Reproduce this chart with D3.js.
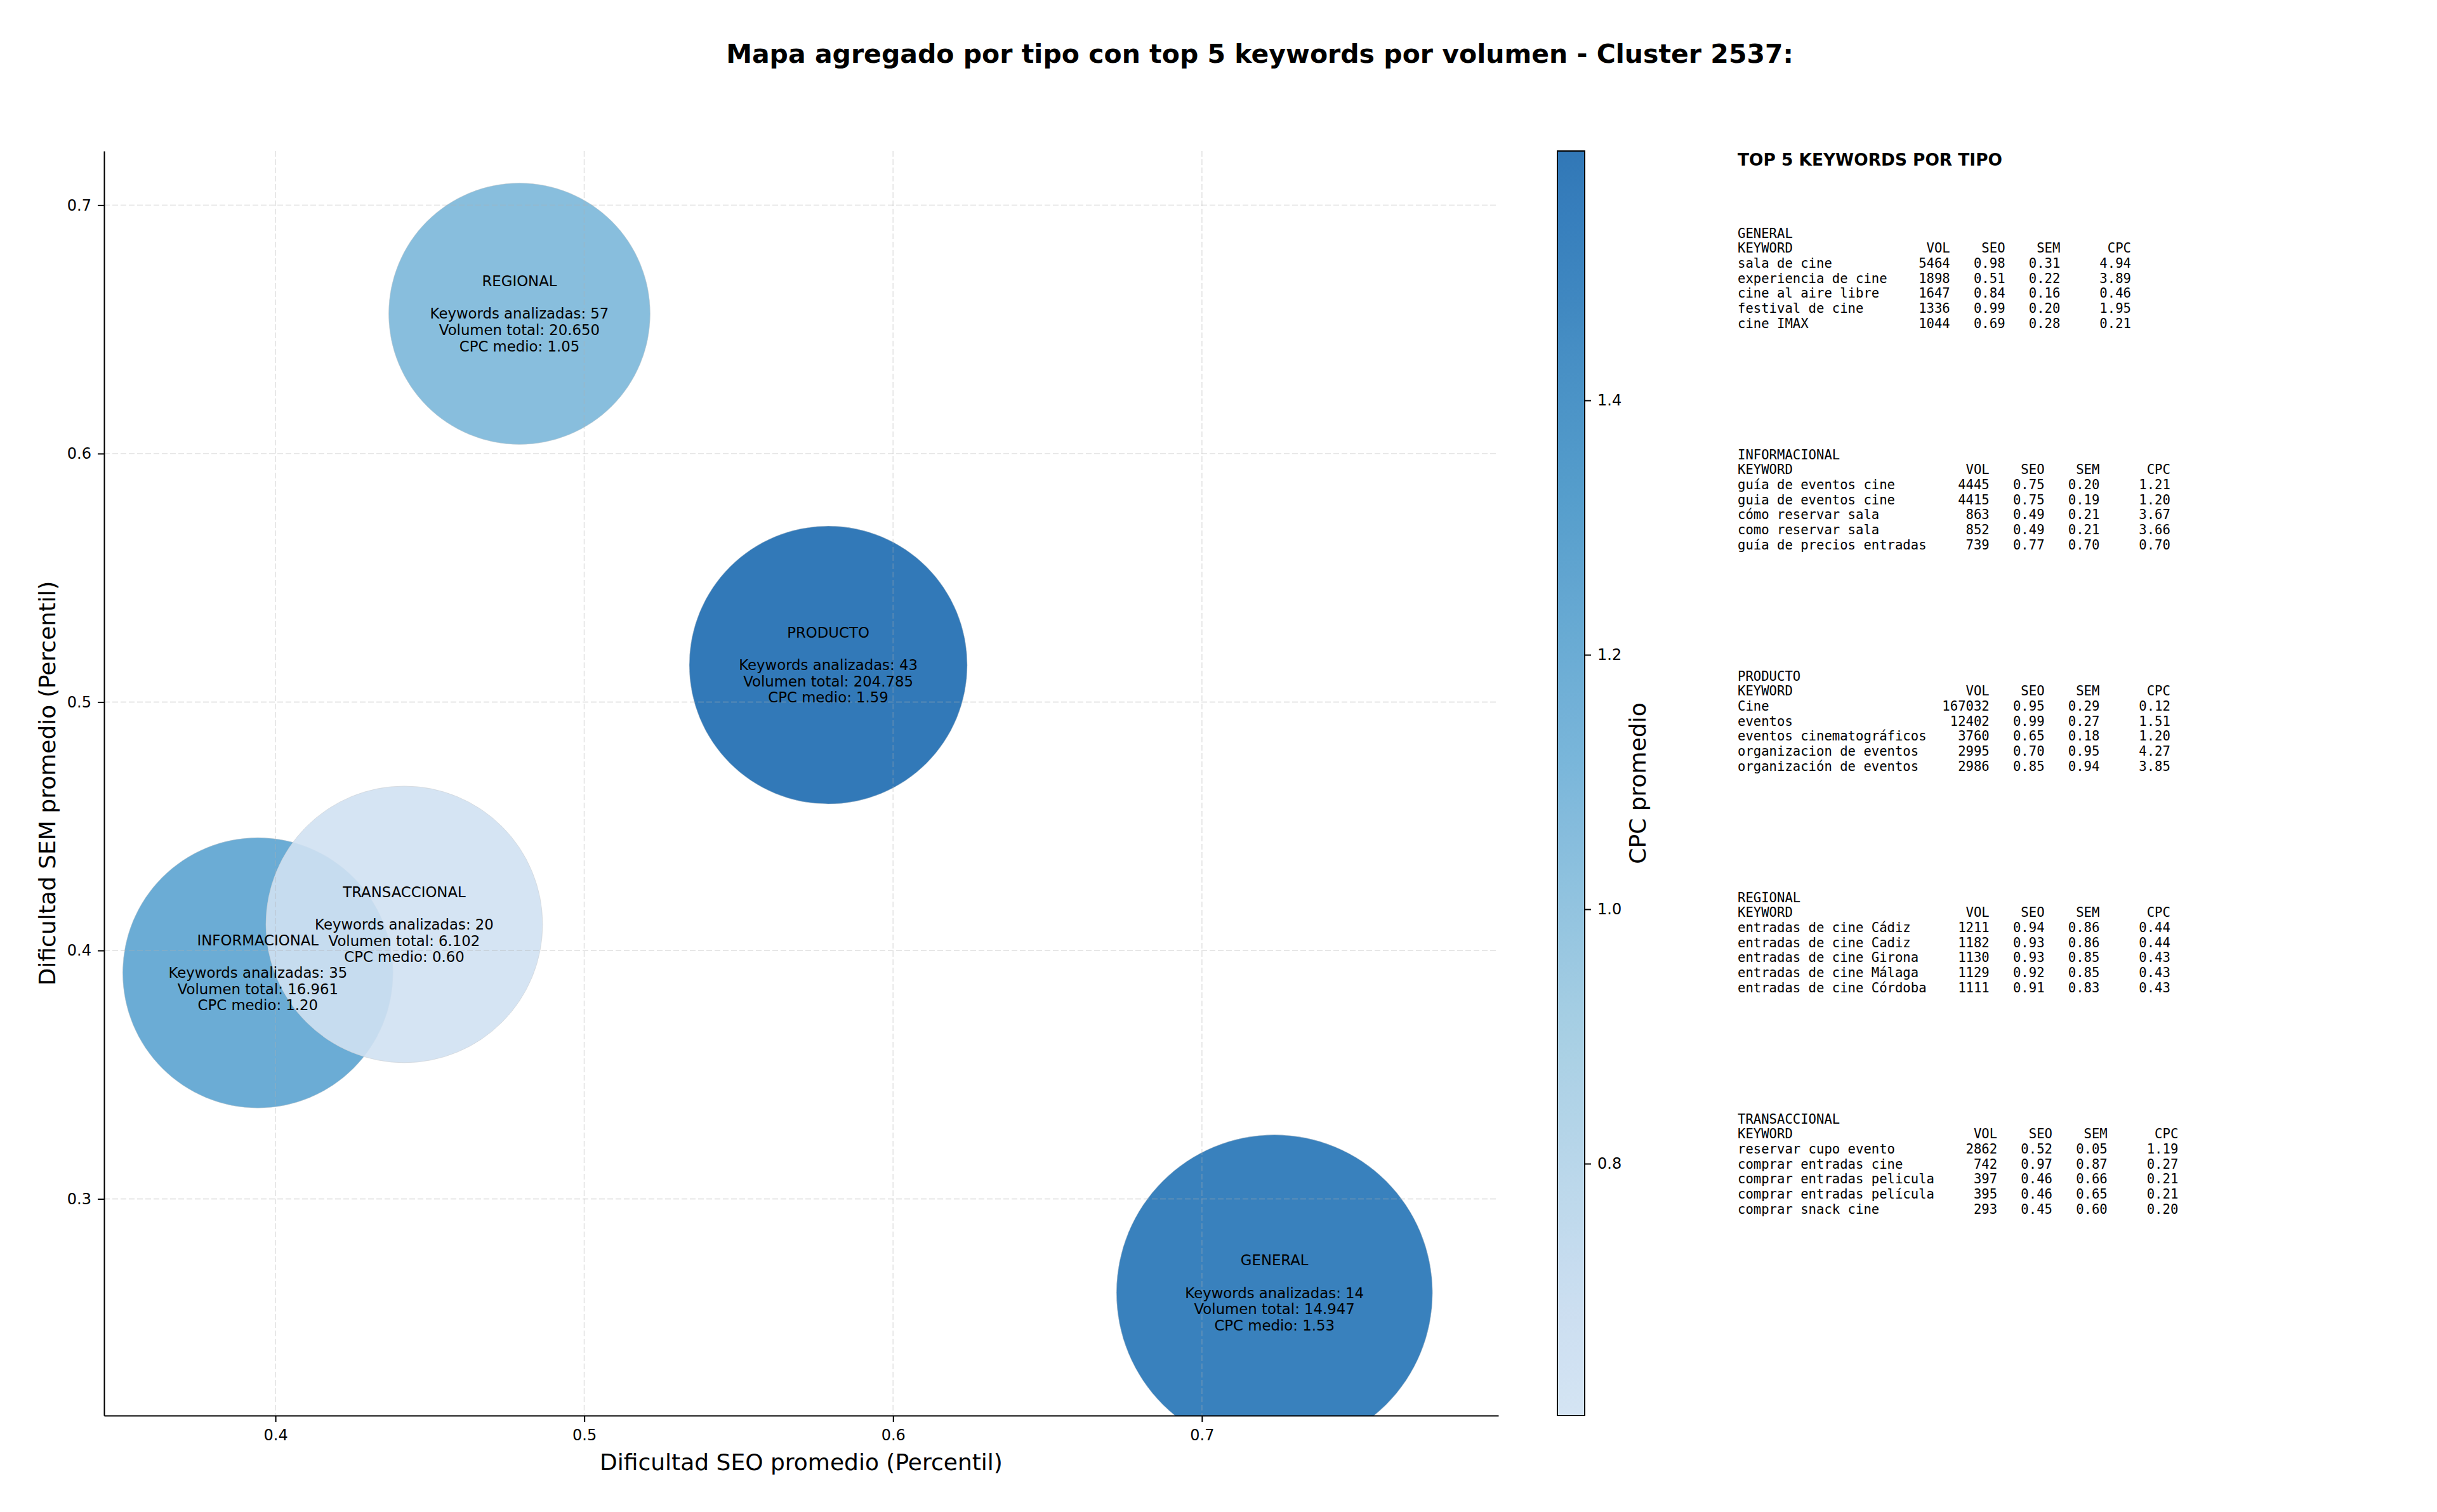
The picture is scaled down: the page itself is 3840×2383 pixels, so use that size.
<!DOCTYPE html>
<html><head><meta charset="utf-8">
<script src="https://cdn.jsdelivr.net/npm/d3@7"></script>
<style>
body{margin:0;background:#fff}
svg text{font-family:"DejaVu Sans",sans-serif;fill:#000}
.mono{font-family:"DejaVu Sans Mono",monospace;white-space:pre}
</style>
</head><body>
<svg id="chart" width="3840" height="2383"></svg>
<script>
// ---------- DATA ----------
const types      = ["GENERAL","INFORMACIONAL","PRODUCTO","REGIONAL","TRANSACCIONAL"];
const seoAvg     = [0.7235, 0.3943, 0.579, 0.479, 0.4417];
const semAvg     = [0.2622, 0.391, 0.5149, 0.6563, 0.4105];
const kwCount    = [14, 35, 43, 57, 20];
const volTotal   = [14947, 16961, 204785, 20650, 6102];
const cpcAvg     = [1.53, 1.20, 1.59, 1.05, 0.60];
const markerArea = [43056, 31506, 33306, 29469, 33003];
const xTicks  = [0.4, 0.5, 0.6, 0.7];
const yTicks  = [0.3, 0.4, 0.5, 0.6, 0.7];
const cbTicks = [0.8, 1.0, 1.2, 1.4];
const cpcRange = [0.602, 1.596];

const kwGeneral = [
  ["sala de cine",5464,0.98,0.31,4.94],
  ["experiencia de cine",1898,0.51,0.22,3.89],
  ["cine al aire libre",1647,0.84,0.16,0.46],
  ["festival de cine",1336,0.99,0.20,1.95],
  ["cine IMAX",1044,0.69,0.28,0.21]];
const kwInformacional = [
  ["guía de eventos cine",4445,0.75,0.20,1.21],
  ["guia de eventos cine",4415,0.75,0.19,1.20],
  ["cómo reservar sala",863,0.49,0.21,3.67],
  ["como reservar sala",852,0.49,0.21,3.66],
  ["guía de precios entradas",739,0.77,0.70,0.70]];
const kwProducto = [
  ["Cine",167032,0.95,0.29,0.12],
  ["eventos",12402,0.99,0.27,1.51],
  ["eventos cinematográficos",3760,0.65,0.18,1.20],
  ["organizacion de eventos",2995,0.70,0.95,4.27],
  ["organización de eventos",2986,0.85,0.94,3.85]];
const kwRegional = [
  ["entradas de cine Cádiz",1211,0.94,0.86,0.44],
  ["entradas de cine Cadiz",1182,0.93,0.86,0.44],
  ["entradas de cine Girona",1130,0.93,0.85,0.43],
  ["entradas de cine Málaga",1129,0.92,0.85,0.43],
  ["entradas de cine Córdoba",1111,0.91,0.83,0.43]];
const kwTransaccional = [
  ["reservar cupo evento",2862,0.52,0.05,1.19],
  ["comprar entradas cine",742,0.97,0.87,0.27],
  ["comprar entradas pelicula",397,0.46,0.66,0.21],
  ["comprar entradas película",395,0.46,0.65,0.21],
  ["comprar snack cine",293,0.45,0.60,0.20]];
const tableBlocks = [kwGeneral, kwInformacional, kwProducto, kwRegional, kwTransaccional];

// ---------- LAYOUT ----------
const svg = d3.select("#chart");
const plot = {left:164, right:2361, top:238, bottom:2231};
const x = d3.scaleLinear().domain([0.3445, 0.796]).range([plot.left, plot.right]);
const y = d3.scaleLinear().domain([0.2128, 0.7218]).range([plot.bottom, plot.top]);
const rScale = d3.scaleSqrt().domain([0, 40000]).range([0, 240]);

// colormap: matplotlib Blues, truncated
const bluesStops = ["#f7fbff","#deebf7","#c6dbef","#9ecae1","#6baed6","#4292c6","#2171b5","#08519c","#08306b"];
const blues = d3.scaleLinear().domain(d3.range(9).map(i=>i/8)).range(bluesStops).interpolate(d3.interpolateRgb);
const cLo = 0.2, cHi = 0.78, alpha = 0.9;
const norm = d3.scaleLinear().domain(cpcRange).range([0,1]).clamp(true);
const cmap = v => blues(cLo + (cHi-cLo)*norm(v));

const defs = svg.append("defs");
defs.append("clipPath").attr("id","plotclip").append("rect")
  .attr("x",plot.left).attr("y",plot.top).attr("width",plot.right-plot.left).attr("height",plot.bottom-plot.top);

// title
svg.append("text").attr("x",1985).attr("y",85).attr("text-anchor","middle")
  .attr("dominant-baseline","central").style("font-size","41px").style("font-weight","bold")
  .text("Mapa agregado por tipo con top 5 keywords por volumen - Cluster 2537:");

// bubbles
const idx = d3.range(types.length);
svg.append("g").attr("clip-path","url(#plotclip)").selectAll("circle").data(idx).join("circle")
  .attr("cx", i=>x(seoAvg[i])).attr("cy", i=>y(semAvg[i])).attr("r", i=>rScale(markerArea[i]))
  .attr("fill", i=>cmap(cpcAvg[i])).attr("fill-opacity", alpha)
  .attr("stroke","#cccccc").attr("stroke-width",1).attr("stroke-opacity",0.5);

// grid (above bubbles like matplotlib)
const grid = svg.append("g").attr("stroke","#b0b0b0").attr("stroke-opacity",0.3)
  .attr("stroke-width",1.9).attr("stroke-dasharray","9,4");
grid.selectAll(".gx").data(xTicks).join("line").attr("x1",d=>x(d)).attr("x2",d=>x(d))
  .attr("y1",plot.top).attr("y2",plot.bottom);
grid.selectAll(".gy").data(yTicks).join("line").attr("y1",d=>y(d)).attr("y2",d=>y(d))
  .attr("x1",plot.left).attr("x2",plot.right);

// bubble labels
const fmtVol = d3.formatLocale({decimal:",",thousands:".",grouping:[3],currency:["",""]}).format(",d");
const lab = svg.append("g").style("font-size","22.8px").attr("text-anchor","middle");
idx.forEach(i=>{
  const lines = [types[i], "", `Keywords analizadas: ${kwCount[i]}`, `Volumen total: ${fmtVol(volTotal[i])}`, `CPC medio: ${cpcAvg[i].toFixed(2)}`];
  lines.forEach((t,k)=>{
    if(!t) return;
    lab.append("text").attr("x",x(seoAvg[i])).attr("y",y(semAvg[i]) + (k-2)*25.6)
      .attr("dominant-baseline","central").text(t);
  });
});

// axes
const xAxis = svg.append("g").attr("transform",`translate(0,${plot.bottom})`)
  .call(d3.axisBottom(x).tickValues(xTicks).tickFormat(d3.format(".1f")).tickSize(10).tickPadding(12).tickSizeOuter(0));
const yAxis = svg.append("g").attr("transform",`translate(${plot.left},0)`)
  .call(d3.axisLeft(y).tickValues(yTicks).tickFormat(d3.format(".1f")).tickSize(10).tickPadding(10).tickSizeOuter(0));
[xAxis,yAxis].forEach(a=>{
  a.select(".domain").attr("stroke","#000").attr("stroke-width",2);
  a.selectAll(".tick line").attr("stroke","#000").attr("stroke-width",2);
  a.selectAll(".tick text").style("font-size","24px").style("font-family","DejaVu Sans").attr("fill","#000");
});
svg.append("text").attr("x",(plot.left+plot.right)/2).attr("y",2304).attr("text-anchor","middle")
  .attr("dominant-baseline","central").style("font-size","36px").text("Dificultad SEO promedio (Percentil)");
svg.append("text").attr("transform",`translate(74,${(plot.top+plot.bottom)/2}) rotate(-90)`)
  .attr("text-anchor","middle").attr("dominant-baseline","central").style("font-size","36px")
  .text("Dificultad SEM promedio (Percentil)");

// colorbar
const cb = {x:2454, w:43, top:238, bottom:2231};
const cbY = d3.scaleLinear().domain(cpcRange).range([cb.bottom, cb.top]);
const grad = defs.append("linearGradient").attr("id","cbgrad").attr("x1",0).attr("y1",1).attr("x2",0).attr("y2",0);
d3.range(0,1.0001,0.02).forEach(t=>{
  grad.append("stop").attr("offset",t).attr("stop-color",blues(cLo+(cHi-cLo)*t));
});
svg.append("rect").attr("x",cb.x).attr("y",cb.top).attr("width",cb.w).attr("height",cb.bottom-cb.top)
  .attr("fill","url(#cbgrad)").attr("fill-opacity",alpha);
svg.append("rect").attr("x",cb.x).attr("y",cb.top).attr("width",cb.w).attr("height",cb.bottom-cb.top)
  .attr("fill","none").attr("stroke","#000").attr("stroke-width",2);
const cbAxis = svg.append("g").attr("transform",`translate(${cb.x+cb.w},0)`)
  .call(d3.axisRight(cbY).tickValues(cbTicks).tickFormat(d3.format(".1f")).tickSize(10).tickPadding(10));
cbAxis.select(".domain").remove();
cbAxis.selectAll(".tick line").attr("stroke","#000").attr("stroke-width",2);
cbAxis.selectAll(".tick text").style("font-size","24px").style("font-family","DejaVu Sans").attr("fill","#000");
svg.append("text").attr("transform",`translate(2580,${(cb.top+cb.bottom)/2}) rotate(-90)`)
  .attr("text-anchor","middle").attr("dominant-baseline","central").style("font-size","36px").text("CPC promedio");

// table
const tx = 2738;
svg.append("text").attr("x",tx).attr("y",251).attr("dominant-baseline","central")
  .style("font-size","26.4px").style("font-weight","bold").text("TOP 5 KEYWORDS POR TIPO");
const lh = 23.7;
tableBlocks.forEach((rows,b)=>{
  const w = d3.max(rows, r=>r[0].length) + 1;
  const lines = [types[b],
    "KEYWORD".padEnd(w) + " " + "VOL".padStart(6) + " " + "SEO".padStart(6) + " " + "SEM".padStart(6) + " " + "CPC".padStart(8)];
  rows.forEach(r=>{
    lines.push(r[0].padEnd(w) + " " + String(r[1]).padStart(6) + " " + r[2].toFixed(2).padStart(6) + " " +
      r[3].toFixed(2).padStart(6) + " " + r[4].toFixed(2).padStart(8));
  });
  const y0 = 367.5 + b*349;
  lines.forEach((t,k)=>{
    svg.append("text").attr("class","mono").attr("xml:space","preserve").attr("x",tx).attr("y",y0+k*lh)
      .attr("dominant-baseline","central").style("font-size","20.6px").text(t);
  });
});
</script>
</body></html>
